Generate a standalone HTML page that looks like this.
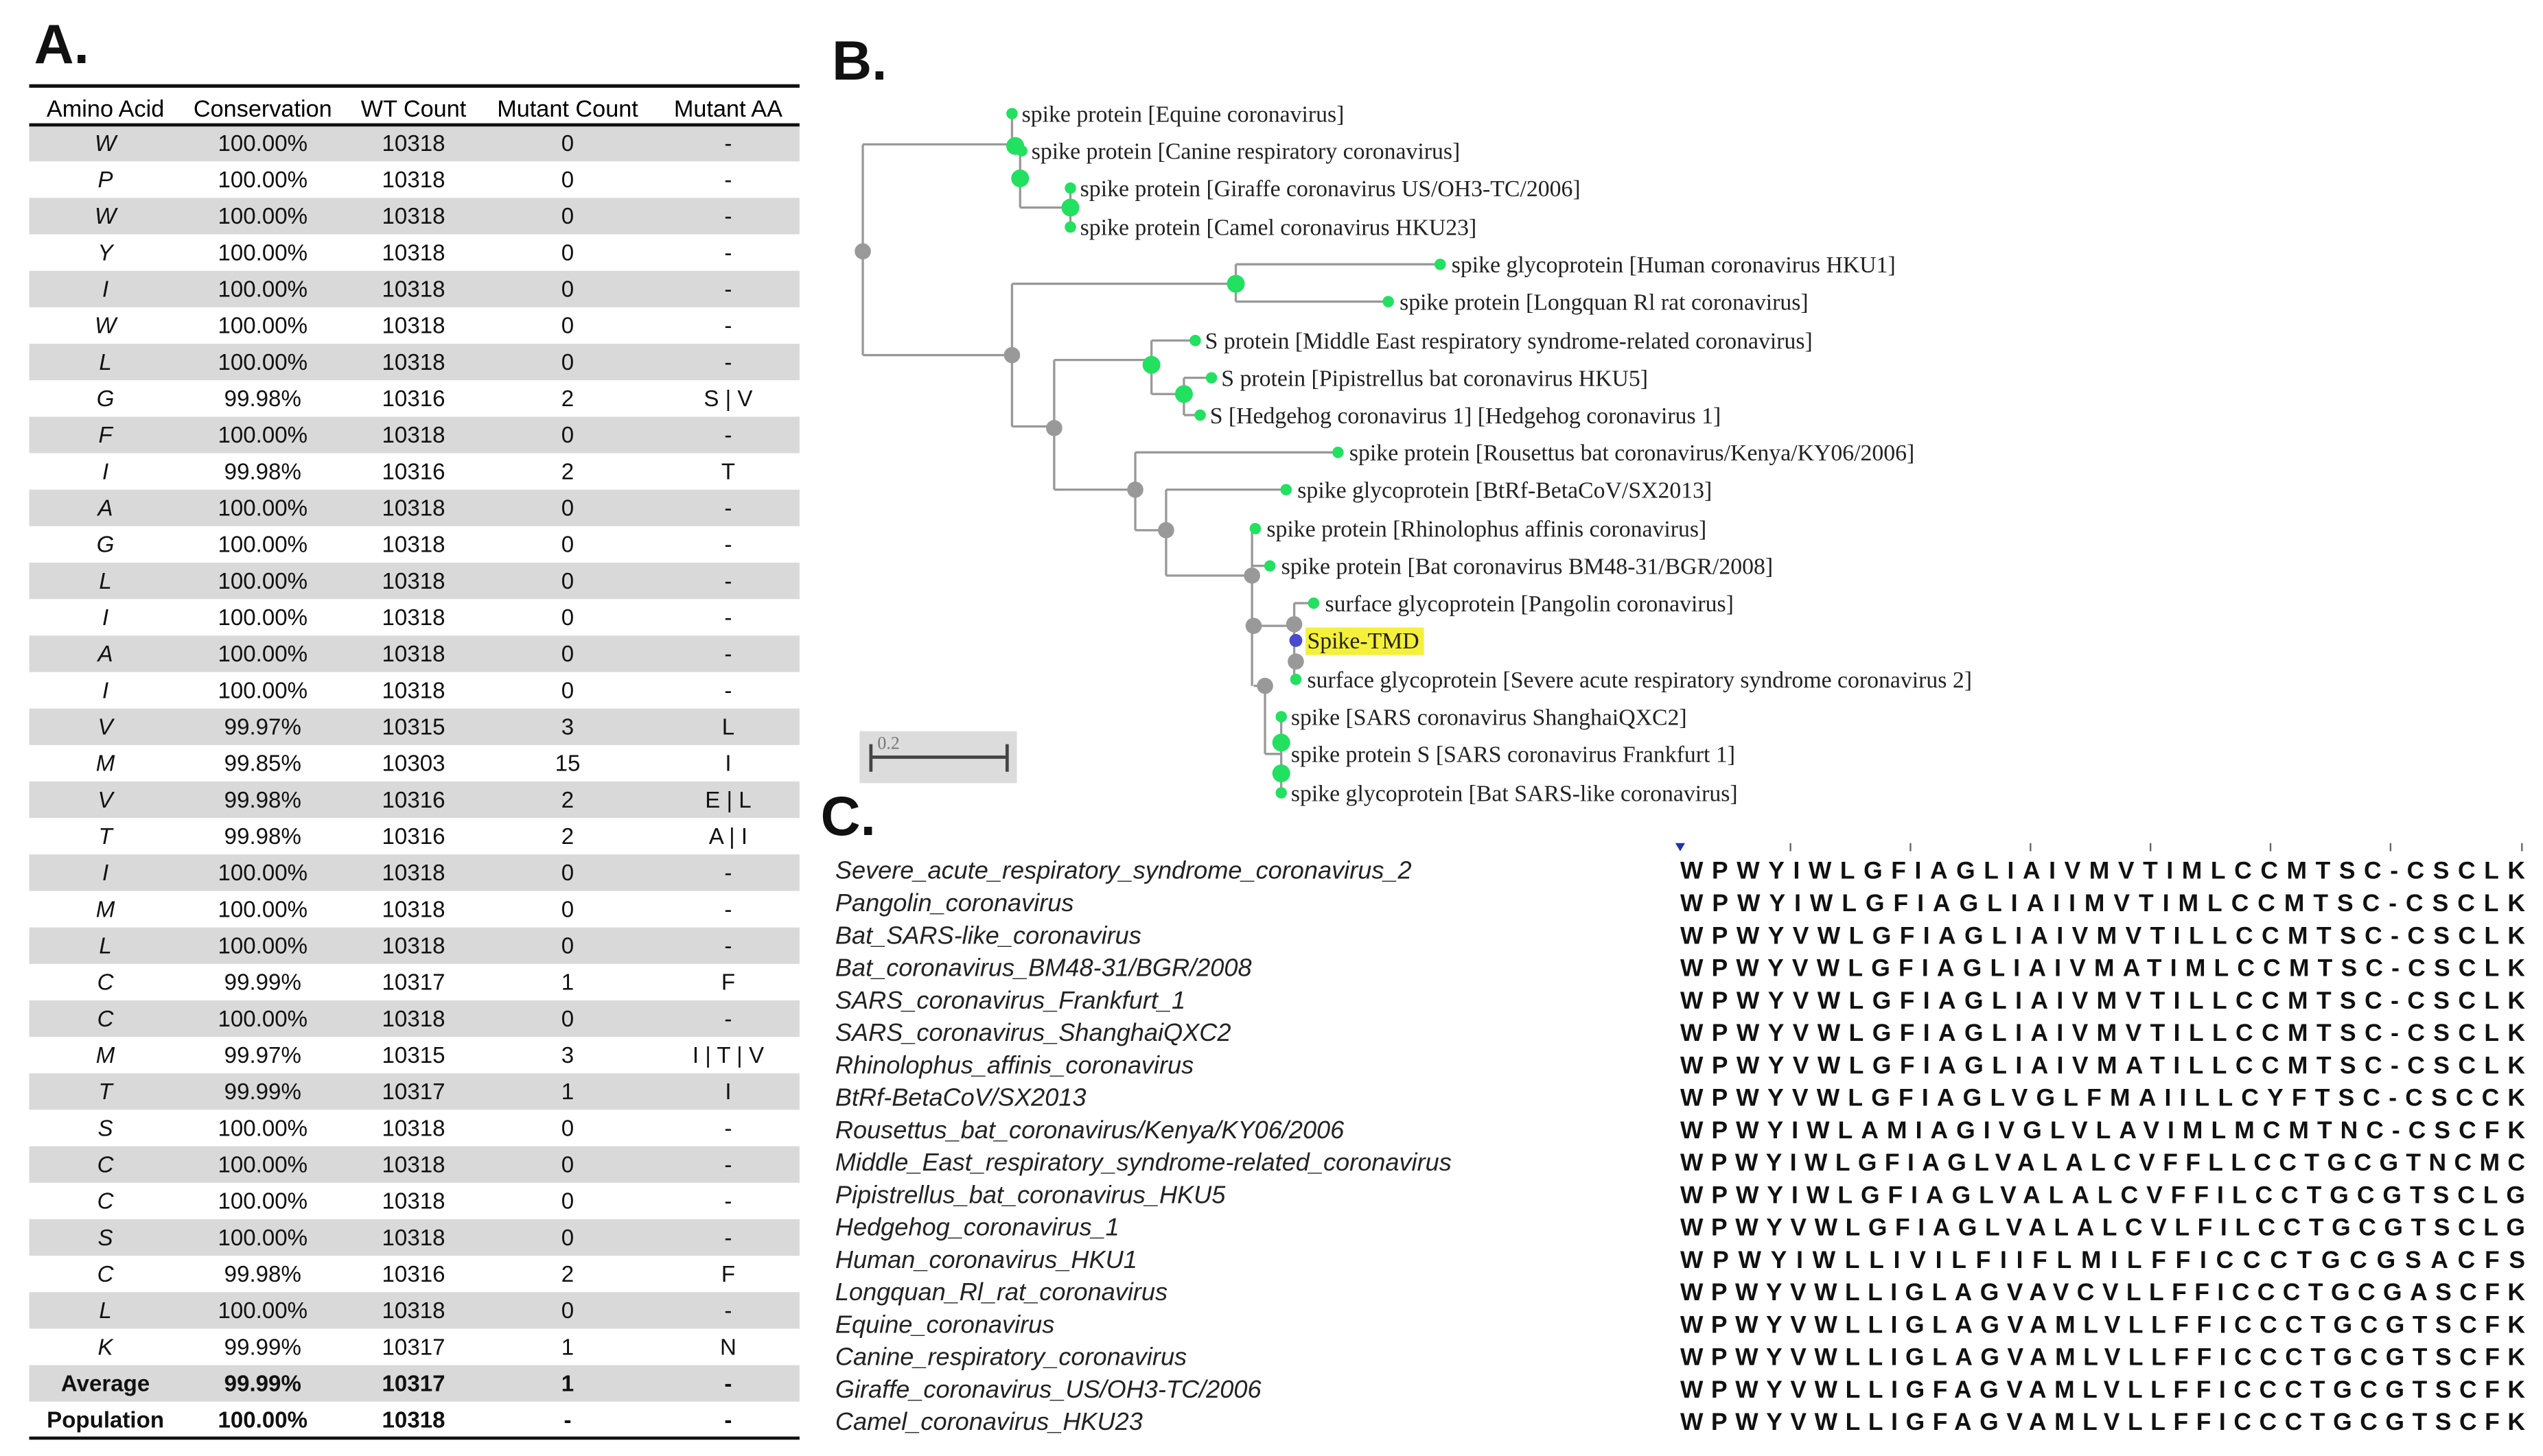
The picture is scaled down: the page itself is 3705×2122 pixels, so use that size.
<!DOCTYPE html>
<html><head><meta charset="utf-8"><style>
html,body{margin:0;padding:0;background:#fff;}
svg{display:block}
.t{font-family:"Liberation Sans Narrow","Liberation Sans",sans-serif;font-size:14px;fill:#111;text-anchor:middle}
.h{font-family:"Liberation Sans Narrow","Liberation Sans",sans-serif;font-size:14.5px;fill:#000;text-anchor:middle}
.i{font-style:italic}
.b{font-weight:bold}
.lbl{font-family:"Liberation Sans",sans-serif;font-weight:bold;font-size:34px;fill:#111}
.tr{font-family:"Liberation Serif",serif;font-size:14.3px;fill:#222}
.nm{font-family:"Liberation Sans Narrow","Liberation Sans",sans-serif;font-style:italic;font-size:15.3px;fill:#222}
.sq{font-family:"Liberation Sans Narrow","Liberation Sans",sans-serif;font-weight:bold;font-size:15px;fill:#111}
.e{stroke:#999;stroke-width:1.4;fill:none}
</style></head><body>
<svg width="3705" height="2122" viewBox="0 0 1568 898" xmlns="http://www.w3.org/2000/svg">
<rect width="1568" height="898" fill="#fff"/>
<text class="lbl" x="21" y="39">A.</text>
<text class="lbl" x="513" y="49">B.</text>
<text class="lbl" x="506" y="515">C.</text>

<g fill="#d9d9d9">
<rect x="18" y="77" width="475" height="22.5"/>
<rect x="18" y="122" width="475" height="22.5"/>
<rect x="18" y="167" width="475" height="22.5"/>
<rect x="18" y="212" width="475" height="22.5"/>
<rect x="18" y="257" width="475" height="22.5"/>
<rect x="18" y="302" width="475" height="22.5"/>
<rect x="18" y="347" width="475" height="22.5"/>
<rect x="18" y="392" width="475" height="22.5"/>
<rect x="18" y="437" width="475" height="22.5"/>
<rect x="18" y="482" width="475" height="22.5"/>
<rect x="18" y="527" width="475" height="22.5"/>
<rect x="18" y="572" width="475" height="22.5"/>
<rect x="18" y="617" width="475" height="22.5"/>
<rect x="18" y="662" width="475" height="22.5"/>
<rect x="18" y="707" width="475" height="22.5"/>
<rect x="18" y="752" width="475" height="22.5"/>
<rect x="18" y="797" width="475" height="22.5"/>
<rect x="18" y="842" width="475" height="22.5"/>
</g>
<line x1="18" y1="53" x2="493" y2="53" stroke="#111" stroke-width="2.2"/>
<line x1="18" y1="77" x2="493" y2="77" stroke="#111" stroke-width="2"/>
<line x1="18" y1="887" x2="493" y2="887" stroke="#111" stroke-width="2"/>
<g class="h">
<text x="65" y="72">Amino Acid</text><text x="162" y="72">Conservation</text><text x="255" y="72">WT Count</text><text x="350" y="72">Mutant Count</text><text x="449" y="72">Mutant AA</text>
</g>
<g class="t">
<g class="i">
<text x="65" y="93">W</text><text x="65" y="115.5">P</text><text x="65" y="138">W</text><text x="65" y="160.5">Y</text><text x="65" y="183">I</text><text x="65" y="205.5">W</text><text x="65" y="228">L</text><text x="65" y="250.5">G</text><text x="65" y="273">F</text><text x="65" y="295.5">I</text><text x="65" y="318">A</text><text x="65" y="340.5">G</text><text x="65" y="363">L</text><text x="65" y="385.5">I</text><text x="65" y="408">A</text><text x="65" y="430.5">I</text><text x="65" y="453">V</text><text x="65" y="475.5">M</text><text x="65" y="498">V</text><text x="65" y="520.5">T</text><text x="65" y="543">I</text><text x="65" y="565.5">M</text><text x="65" y="588">L</text><text x="65" y="610.5">C</text><text x="65" y="633">C</text><text x="65" y="655.5">M</text><text x="65" y="678">T</text><text x="65" y="700.5">S</text><text x="65" y="723">C</text><text x="65" y="745.5">C</text><text x="65" y="768">S</text><text x="65" y="790.5">C</text><text x="65" y="813">L</text><text x="65" y="835.5">K</text>
</g>
<text x="162" y="93">100.00%</text><text x="162" y="115.5">100.00%</text><text x="162" y="138">100.00%</text><text x="162" y="160.5">100.00%</text><text x="162" y="183">100.00%</text><text x="162" y="205.5">100.00%</text><text x="162" y="228">100.00%</text><text x="162" y="250.5">99.98%</text><text x="162" y="273">100.00%</text><text x="162" y="295.5">99.98%</text><text x="162" y="318">100.00%</text><text x="162" y="340.5">100.00%</text><text x="162" y="363">100.00%</text><text x="162" y="385.5">100.00%</text><text x="162" y="408">100.00%</text><text x="162" y="430.5">100.00%</text><text x="162" y="453">99.97%</text><text x="162" y="475.5">99.85%</text><text x="162" y="498">99.98%</text><text x="162" y="520.5">99.98%</text><text x="162" y="543">100.00%</text><text x="162" y="565.5">100.00%</text><text x="162" y="588">100.00%</text><text x="162" y="610.5">99.99%</text><text x="162" y="633">100.00%</text><text x="162" y="655.5">99.97%</text><text x="162" y="678">99.99%</text><text x="162" y="700.5">100.00%</text><text x="162" y="723">100.00%</text><text x="162" y="745.5">100.00%</text><text x="162" y="768">100.00%</text><text x="162" y="790.5">99.98%</text><text x="162" y="813">100.00%</text><text x="162" y="835.5">99.99%</text>
<text x="255" y="93">10318</text><text x="255" y="115.5">10318</text><text x="255" y="138">10318</text><text x="255" y="160.5">10318</text><text x="255" y="183">10318</text><text x="255" y="205.5">10318</text><text x="255" y="228">10318</text><text x="255" y="250.5">10316</text><text x="255" y="273">10318</text><text x="255" y="295.5">10316</text><text x="255" y="318">10318</text><text x="255" y="340.5">10318</text><text x="255" y="363">10318</text><text x="255" y="385.5">10318</text><text x="255" y="408">10318</text><text x="255" y="430.5">10318</text><text x="255" y="453">10315</text><text x="255" y="475.5">10303</text><text x="255" y="498">10316</text><text x="255" y="520.5">10316</text><text x="255" y="543">10318</text><text x="255" y="565.5">10318</text><text x="255" y="588">10318</text><text x="255" y="610.5">10317</text><text x="255" y="633">10318</text><text x="255" y="655.5">10315</text><text x="255" y="678">10317</text><text x="255" y="700.5">10318</text><text x="255" y="723">10318</text><text x="255" y="745.5">10318</text><text x="255" y="768">10318</text><text x="255" y="790.5">10316</text><text x="255" y="813">10318</text><text x="255" y="835.5">10317</text>
<text x="350" y="93">0</text><text x="350" y="115.5">0</text><text x="350" y="138">0</text><text x="350" y="160.5">0</text><text x="350" y="183">0</text><text x="350" y="205.5">0</text><text x="350" y="228">0</text><text x="350" y="250.5">2</text><text x="350" y="273">0</text><text x="350" y="295.5">2</text><text x="350" y="318">0</text><text x="350" y="340.5">0</text><text x="350" y="363">0</text><text x="350" y="385.5">0</text><text x="350" y="408">0</text><text x="350" y="430.5">0</text><text x="350" y="453">3</text><text x="350" y="475.5">15</text><text x="350" y="498">2</text><text x="350" y="520.5">2</text><text x="350" y="543">0</text><text x="350" y="565.5">0</text><text x="350" y="588">0</text><text x="350" y="610.5">1</text><text x="350" y="633">0</text><text x="350" y="655.5">3</text><text x="350" y="678">1</text><text x="350" y="700.5">0</text><text x="350" y="723">0</text><text x="350" y="745.5">0</text><text x="350" y="768">0</text><text x="350" y="790.5">2</text><text x="350" y="813">0</text><text x="350" y="835.5">1</text>
<text x="449" y="93">-</text><text x="449" y="115.5">-</text><text x="449" y="138">-</text><text x="449" y="160.5">-</text><text x="449" y="183">-</text><text x="449" y="205.5">-</text><text x="449" y="228">-</text><text x="449" y="250.5">S | V</text><text x="449" y="273">-</text><text x="449" y="295.5">T</text><text x="449" y="318">-</text><text x="449" y="340.5">-</text><text x="449" y="363">-</text><text x="449" y="385.5">-</text><text x="449" y="408">-</text><text x="449" y="430.5">-</text><text x="449" y="453">L</text><text x="449" y="475.5">I</text><text x="449" y="498">E | L</text><text x="449" y="520.5">A | I</text><text x="449" y="543">-</text><text x="449" y="565.5">-</text><text x="449" y="588">-</text><text x="449" y="610.5">F</text><text x="449" y="633">-</text><text x="449" y="655.5">I | T | V</text><text x="449" y="678">I</text><text x="449" y="700.5">-</text><text x="449" y="723">-</text><text x="449" y="745.5">-</text><text x="449" y="768">-</text><text x="449" y="790.5">F</text><text x="449" y="813">-</text><text x="449" y="835.5">N</text>
<g class="b">
<text x="65" y="858">Average</text><text x="162" y="858">99.99%</text><text x="255" y="858">10317</text><text x="350" y="858">1</text><text x="449" y="858">-</text>
<text x="65" y="880.5">Population</text><text x="162" y="880.5">100.00%</text><text x="255" y="880.5">10318</text><text x="350" y="880.5">-</text><text x="449" y="880.5">-</text>
</g>
</g>

<g class="e">
<path d="M532 89V219M532 89H624M532 219H624"/>
<path d="M624 70V93M629 93V128M629 128H660M660 116V140"/>
<path d="M624 175V263M624 175H762M624 263H650"/>
<path d="M762 163V186M762 163H888M762 186H856"/>
<path d="M650 222V302M650 222H710M650 302H700"/>
<path d="M710 210V243M710 210H737M710 243H730M730 233V256M730 233H747M730 256H740"/>
<path d="M700 279V327M700 279H825M700 327H719"/>
<path d="M719 302V355M719 302H793M719 355H772"/>
<path d="M772 326V423M772 349H783M772 386H780M780 386H798M798 372V419M798 372H810M773 423H780M780 423V465M780 465H790M790 442V489"/>
</g>
<g>
<circle cx="532" cy="155" r="5" fill="#999"/>
<circle cx="624" cy="219" r="5" fill="#999"/>
<circle cx="650" cy="264" r="5" fill="#999"/>
<circle cx="700" cy="302" r="5" fill="#999"/>
<circle cx="719" cy="327" r="5" fill="#999"/>
<circle cx="772" cy="355" r="5" fill="#999"/>
<circle cx="773" cy="386" r="5" fill="#999"/>
<circle cx="780" cy="423" r="5" fill="#999"/>
<circle cx="798" cy="385" r="5" fill="#999"/>
<circle cx="799" cy="408" r="5" fill="#999"/>
<circle cx="799" cy="395" r="4" fill="#4a4acc"/>
<g fill="#22e060">
<circle cx="626" cy="90" r="5.5"/><circle cx="629" cy="110" r="5.5"/><circle cx="660" cy="128" r="5.5"/>
<circle cx="762" cy="175" r="5.5"/><circle cx="710" cy="225" r="5.5"/><circle cx="730" cy="243" r="5.5"/>
<circle cx="790" cy="458" r="5.5"/><circle cx="790" cy="477" r="5.5"/>
<circle cx="624" cy="70" r="3.5"/><circle cx="630" cy="93" r="3.5"/><circle cx="660" cy="116" r="3.5"/><circle cx="660" cy="140" r="3.5"/>
<circle cx="888" cy="163" r="3.5"/><circle cx="856" cy="186" r="3.5"/><circle cx="737" cy="210" r="3.5"/><circle cx="747" cy="233" r="3.5"/><circle cx="740" cy="256" r="3.5"/>
<circle cx="825" cy="279" r="3.5"/><circle cx="793" cy="302" r="3.5"/><circle cx="774" cy="326" r="3.5"/><circle cx="783" cy="349" r="3.5"/><circle cx="810" cy="372" r="3.5"/>
<circle cx="799" cy="419" r="3.5"/><circle cx="790" cy="442" r="3.5"/><circle cx="790" cy="489" r="3.5"/>
</g>
</g>
<rect x="805" y="387" width="73" height="17" fill="#f5f03a"/>
<g class="tr">
<text x="630" y="75">spike protein [Equine coronavirus]</text>
<text x="636" y="98">spike protein [Canine respiratory coronavirus]</text>
<text x="666" y="121">spike protein [Giraffe coronavirus US/OH3-TC/2006]</text>
<text x="666" y="145">spike protein [Camel coronavirus HKU23]</text>
<text x="895" y="168">spike glycoprotein [Human coronavirus HKU1]</text>
<text x="863" y="191">spike protein [Longquan Rl rat coronavirus]</text>
<text x="743" y="215">S protein [Middle East respiratory syndrome-related coronavirus]</text>
<text x="753" y="238">S protein [Pipistrellus bat coronavirus HKU5]</text>
<text x="746" y="261">S [Hedgehog coronavirus 1] [Hedgehog coronavirus 1]</text>
<text x="832" y="284">spike protein [Rousettus bat coronavirus/Kenya/KY06/2006]</text>
<text x="800" y="307">spike glycoprotein [BtRf-BetaCoV/SX2013]</text>
<text x="781" y="331">spike protein [Rhinolophus affinis coronavirus]</text>
<text x="790" y="354">spike protein [Bat coronavirus BM48-31/BGR/2008]</text>
<text x="817" y="377">surface glycoprotein [Pangolin coronavirus]</text>
<text x="806" y="400">Spike-TMD</text>
<text x="806" y="424">surface glycoprotein [Severe acute respiratory syndrome coronavirus 2]</text>
<text x="796" y="447">spike [SARS coronavirus ShanghaiQXC2]</text>
<text x="796" y="470">spike protein S [SARS coronavirus Frankfurt 1]</text>
<text x="796" y="494">spike glycoprotein [Bat SARS-like coronavirus]</text>
</g>
<rect x="530" y="451" width="97" height="32" fill="#dcdcdc"/>
<path d="M537 467H621M537 459V476M621 459V476" stroke="#444" stroke-width="2" fill="none"/>
<text x="541" y="462" font-family="Liberation Serif,serif" font-size="11" fill="#777">0.2</text>

<path d="M1033 520h6l-3 5z" fill="#2233aa"/>
<g stroke="#666" stroke-width="1"><path d="M1104 520v5M1178 520v5M1252 520v5M1326 520v5M1400 520v5M1474 520v5M1555 520v5"/></g>
<g class="nm">
<text x="515" y="542">Severe_acute_respiratory_syndrome_coronavirus_2</text>
<text x="515" y="562">Pangolin_coronavirus</text>
<text x="515" y="582">Bat_SARS-like_coronavirus</text>
<text x="515" y="602">Bat_coronavirus_BM48-31/BGR/2008</text>
<text x="515" y="622">SARS_coronavirus_Frankfurt_1</text>
<text x="515" y="642">SARS_coronavirus_ShanghaiQXC2</text>
<text x="515" y="662">Rhinolophus_affinis_coronavirus</text>
<text x="515" y="682">BtRf-BetaCoV/SX2013</text>
<text x="515" y="702">Rousettus_bat_coronavirus/Kenya/KY06/2006</text>
<text x="515" y="722">Middle_East_respiratory_syndrome-related_coronavirus</text>
<text x="515" y="742">Pipistrellus_bat_coronavirus_HKU5</text>
<text x="515" y="762">Hedgehog_coronavirus_1</text>
<text x="515" y="782">Human_coronavirus_HKU1</text>
<text x="515" y="802">Longquan_Rl_rat_coronavirus</text>
<text x="515" y="822">Equine_coronavirus</text>
<text x="515" y="842">Canine_respiratory_coronavirus</text>
<text x="515" y="862">Giraffe_coronavirus_US/OH3-TC/2006</text>
<text x="515" y="882">Camel_coronavirus_HKU23</text>
</g>
<g class="sq">
<text x="1036" y="542" textLength="521" lengthAdjust="spacing">WPWYIWLGFIAGLIAIVMVTIMLCCMTSC-CSCLK</text>
<text x="1036" y="562" textLength="521" lengthAdjust="spacing">WPWYIWLGFIAGLIAIIMVTIMLCCMTSC-CSCLK</text>
<text x="1036" y="582" textLength="521" lengthAdjust="spacing">WPWYVWLGFIAGLIAIVMVTILLCCMTSC-CSCLK</text>
<text x="1036" y="602" textLength="521" lengthAdjust="spacing">WPWYVWLGFIAGLIAIVMATIMLCCMTSC-CSCLK</text>
<text x="1036" y="622" textLength="521" lengthAdjust="spacing">WPWYVWLGFIAGLIAIVMVTILLCCMTSC-CSCLK</text>
<text x="1036" y="642" textLength="521" lengthAdjust="spacing">WPWYVWLGFIAGLIAIVMVTILLCCMTSC-CSCLK</text>
<text x="1036" y="662" textLength="521" lengthAdjust="spacing">WPWYVWLGFIAGLIAIVMATILLCCMTSC-CSCLK</text>
<text x="1036" y="682" textLength="521" lengthAdjust="spacing">WPWYVWLGFIAGLVGLFMAIILLCYFTSC-CSCCK</text>
<text x="1036" y="702" textLength="521" lengthAdjust="spacing">WPWYIWLAMIAGIVGLVLAVIMLMCMTNC-CSCFK</text>
<text x="1036" y="722" textLength="521" lengthAdjust="spacing">WPWYIWLGFIAGLVALALCVFFLLCCTGCGTNCMC</text>
<text x="1036" y="742" textLength="521" lengthAdjust="spacing">WPWYIWLGFIAGLVALALCVFFILCCTGCGTSCLG</text>
<text x="1036" y="762" textLength="521" lengthAdjust="spacing">WPWYVWLGFIAGLVALALCVLFILCCTGCGTSCLG</text>
<text x="1036" y="782" textLength="521" lengthAdjust="spacing">WPWYIWLLIVILFIIFLMILFFICCCTGCGSACFS</text>
<text x="1036" y="802" textLength="521" lengthAdjust="spacing">WPWYVWLLIGLAGVAVCVLLFFICCCTGCGASCFK</text>
<text x="1036" y="822" textLength="521" lengthAdjust="spacing">WPWYVWLLIGLAGVAMLVLLFFICCCTGCGTSCFK</text>
<text x="1036" y="842" textLength="521" lengthAdjust="spacing">WPWYVWLLIGLAGVAMLVLLFFICCCTGCGTSCFK</text>
<text x="1036" y="862" textLength="521" lengthAdjust="spacing">WPWYVWLLIGFAGVAMLVLLFFICCCTGCGTSCFK</text>
<text x="1036" y="882" textLength="521" lengthAdjust="spacing">WPWYVWLLIGFAGVAMLVLLFFICCCTGCGTSCFK</text>
</g>
</svg>
</body></html>
